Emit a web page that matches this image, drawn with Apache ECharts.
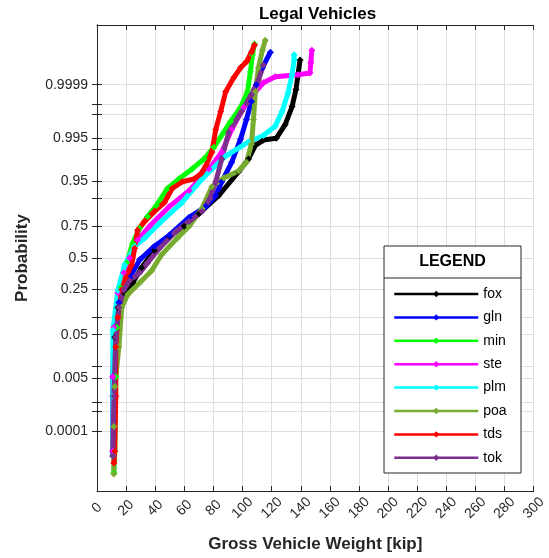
<!DOCTYPE html>
<html>
<head>
<meta charset="utf-8">
<title>Legal Vehicles</title>
<script src="https://cdn.jsdelivr.net/npm/echarts@6/dist/echarts.min.js"></script>
<style>
  html, body { margin: 0; padding: 0; background: #fff; }
  #main { width: 549px; height: 558px; }
</style>
</head>
<body>
<div id="main"></div>
<script>
// weight [kip], cumulative probability
var fox = [[10.9, 0.0000107], [10.9, 0.0015], [12.2, 0.0446], [14.3, 0.144], [18.4, 0.229], [24.5, 0.298],
  [30.6, 0.417], [39.5, 0.567], [49.7, 0.68], [59.9, 0.752], [70.1, 0.83], [83.7, 0.91], [97.3, 0.968],
  [104.1, 0.9832], [108.8, 0.9922], [114.3, 0.9943], [123.1, 0.9949], [129.3, 0.9979], [134.0, 0.99942],
  [136.7, 0.99985], [138.1, 0.999958], [139.5, 0.9999893]];
var gln = [[10.9, 0.000017], [10.9, 0.0054], [12.2, 0.068], [15.0, 0.17], [18.4, 0.248], [22.4, 0.335],
  [29.3, 0.484], [39.5, 0.6], [49.7, 0.688], [63.3, 0.808], [74.8, 0.865], [81.6, 0.91], [85.7, 0.949],
  [92.5, 0.98], [98.6, 0.9946], [102.7, 0.99853], [106.1, 0.99961], [109.5, 0.9999], [113.6, 0.9999775],
  [119.1, 0.999995]];
var min = [[11.6, 0.000002], [12.2, 0.000017], [12.9, 0.0054], [13.6, 0.068], [16.3, 0.262], [20.4, 0.458],
  [24.5, 0.625], [29.3, 0.738], [34.7, 0.813], [40.8, 0.87], [48.3, 0.9315], [56.5, 0.9554], [65.3, 0.972],
  [73.5, 0.9832], [80.3, 0.9913], [87.1, 0.99653], [91.8, 0.99831], [98.6, 0.99938], [103.4, 0.99982],
  [105.4, 0.999968], [106.8, 0.9999935], [108.2, 0.9999978]];
var ste = [[10.9, 0.000017], [10.9, 0.0054], [11.6, 0.068], [14.3, 0.228], [18.4, 0.375], [22.4, 0.5],
  [27.9, 0.65], [36.1, 0.752], [49.7, 0.865], [63.3, 0.926], [76.9, 0.972], [85.7, 0.9884], [92.5, 0.9971],
  [100.7, 0.99938], [108.8, 0.99982], [114.3, 0.999915], [122.4, 0.99995], [138.1, 0.999958],
  [146.3, 0.999964], [146.9, 0.999986], [147.6, 0.9999959]];
var plm = [[10.9, 0.0000107], [10.9, 0.0015], [10.9, 0.0606], [14.3, 0.242], [19.0, 0.441], [25.9, 0.6],
  [32.7, 0.665], [44.2, 0.784], [57.8, 0.879], [73.5, 0.959], [88.4, 0.9857], [104.1, 0.99361],
  [114.3, 0.99573], [122.4, 0.99767], [127.2, 0.99917], [131.3, 0.99981], [134.0, 0.999958],
  [135.4, 0.9999893], [135.4, 0.9999935]];
var poa = [[11.6, 0.0000018], [11.6, 0.00015], [12.2, 0.0029], [15.0, 0.028], [17.0, 0.144], [21.1, 0.216],
  [29.3, 0.298], [37.4, 0.391], [44.2, 0.525], [55.1, 0.665], [63.3, 0.752], [72.1, 0.856], [78.9, 0.937],
  [87.1, 0.957], [97.3, 0.969], [102.7, 0.98], [106.1, 0.9927], [107.5, 0.99853], [108.8, 0.99982],
  [110.9, 0.9999775], [113.6, 0.9999959], [115.6, 0.9999985]];
var tds = [[11.6, 0.0000054], [12.2, 0.000017], [12.9, 0.0015], [12.9, 0.028], [14.3, 0.101], [17.0, 0.248],
  [19.7, 0.335], [23.8, 0.44], [25.9, 0.583], [27.9, 0.724], [32.7, 0.784], [39.5, 0.841], [46.3, 0.883],
  [51.7, 0.932], [58.5, 0.949], [66.7, 0.955], [71.4, 0.9645], [74.8, 0.976], [78.9, 0.9884], [81.6, 0.9971],
  [85.0, 0.99917], [88.4, 0.99982], [93.9, 0.999945], [98.6, 0.9999775], [102.7, 0.9999872],
  [106.1, 0.999995], [108.2, 0.9999976]];
var tok = [[10.9, 0.0000107], [11.6, 0.0015], [12.9, 0.0446], [15.0, 0.144], [18.4, 0.248], [22.4, 0.312],
  [29.3, 0.375], [34.7, 0.458], [42.9, 0.583], [54.4, 0.717], [63.3, 0.784], [72.1, 0.841], [77.6, 0.899],
  [81.6, 0.949], [85.7, 0.9832], [90.5, 0.99653], [99.3, 0.99917], [106.1, 0.999776], [110.9, 0.999933],
  [114.3, 0.9999826]];

var seriesNames = ['fox', 'gln', 'min', 'ste', 'plm', 'poa', 'tds', 'tok'];
var seriesData = [fox, gln, min, ste, plm, poa, tds, tok];
var seriesColors = ['#000000', '#0000ff', '#00ff00', '#ff00ff', '#00ffff', '#77ac30', '#ff0000', '#7e2f8e'];

var probTicks = [0.0001, 0.0005, 0.001, 0.005, 0.01, 0.05, 0.1, 0.25, 0.5, 0.75, 0.9, 0.95, 0.99, 0.995, 0.999, 0.9995, 0.9999];
var probLabels = [0.0001, 0.005, 0.05, 0.25, 0.5, 0.75, 0.95, 0.995, 0.9999];
var xTicks = { min: 0, max: 300, step: 20 };

// inverse normal cdf (Acklam) - the y axis is a normal probability scale
function probit(p) {
  var a = [-3.969683028665376e+01, 2.209460984245205e+02, -2.759285104469687e+02, 1.383577518672690e+02, -3.066479806614716e+01, 2.506628277459239e+00];
  var b = [-5.447609879822406e+01, 1.615858368580409e+02, -1.556989798598866e+02, 6.680131188771972e+01, -1.328068155288572e+01];
  var c = [-7.784894002430293e-03, -3.223964580411365e-01, -2.400758277161838e+00, -2.549732539343734e+00, 4.374664141464968e+00, 2.938163982698783e+00];
  var d = [7.784695709041462e-03, 3.224671290700398e-01, 2.445134137142996e+00, 3.754408661907416e+00];
  var pl = 0.02425, q, r;
  if (p < pl) {
    q = Math.sqrt(-2 * Math.log(p));
    return (((((c[0]*q+c[1])*q+c[2])*q+c[3])*q+c[4])*q+c[5]) / ((((d[0]*q+d[1])*q+d[2])*q+d[3])*q+1);
  }
  if (p > 1 - pl) {
    q = Math.sqrt(-2 * Math.log(1 - p));
    return -(((((c[0]*q+c[1])*q+c[2])*q+c[3])*q+c[4])*q+c[5]) / ((((d[0]*q+d[1])*q+d[2])*q+d[3])*q+1);
  }
  q = p - 0.5; r = q * q;
  return (((((a[0]*r+a[1])*r+a[2])*r+a[3])*r+a[4])*r+a[5])*q / (((((b[0]*r+b[1])*r+b[2])*r+b[3])*r+b[4])*r+1);
}

var tickZ = probTicks.map(probit);
var labelZ = probLabels.map(probit);
function probLabel(v) {
  for (var i = 0; i < labelZ.length; i++) {
    if (Math.abs(labelZ[i] - v) < 1e-6) return String(probLabels[i]);
  }
  return '';
}

var font = 'Liberation Sans, Arial, Helvetica, sans-serif';
var dark = '#262626';
var gridColor = '#dedede';

var series = seriesNames.map(function (name, i) {
  return {
    name: name,
    type: 'line',
    data: seriesData[i].map(function (pt) { return [pt[0], probit(pt[1])]; }),
    symbol: 'diamond',
    symbolSize: 7,
    showSymbol: true,
    showAllSymbol: true,
    lineStyle: { width: 5, color: seriesColors[i] },
    itemStyle: { color: seriesColors[i] },
    emphasis: { disabled: true }
  };
});

var yAxisBase = {
  type: 'value',
  min: -5,
  max: 5,
  axisLine: { show: true, lineStyle: { color: dark, width: 1 } },
  axisTick: { show: true, inside: true, length: 5, customValues: tickZ, lineStyle: { color: dark } },
  splitLine: { show: false }
};

var option = {
  animation: false,
  backgroundColor: '#fff',
  title: {
    text: 'Legal Vehicles',
    left: 317.5,
    top: 6,
    padding: 0,
    textAlign: 'center',
    textStyle: { fontFamily: font, fontSize: 17, fontWeight: 'bold', color: '#000' }
  },
  grid: { left: 97, right: 11, top: 25, bottom: 64, containLabel: false },
  xAxis: [{
    type: 'value',
    min: xTicks.min,
    max: xTicks.max,
    interval: xTicks.step,
    position: 'bottom',
    name: 'Gross Vehicle Weight [kip]',
    nameLocation: 'middle',
    nameGap: 45,
    nameTextStyle: { fontFamily: font, fontSize: 17, fontWeight: 'bold', color: dark },
    axisLine: { show: true, onZero: false, lineStyle: { color: dark, width: 1 } },
    axisTick: { show: true, inside: true, length: 5, lineStyle: { color: dark } },
    axisLabel: { rotate: 45, align: 'center', verticalAlign: 'middle', margin: 17, fontFamily: font, fontSize: 14, color: dark, showMinLabel: true, showMaxLabel: true },
    splitLine: { show: true, lineStyle: { color: gridColor, width: 1 } }
  }, {
    type: 'value',
    min: xTicks.min,
    max: xTicks.max,
    interval: xTicks.step,
    position: 'top',
    axisLine: { show: true, onZero: false, lineStyle: { color: dark, width: 1 } },
    axisTick: { show: true, inside: true, length: 5, lineStyle: { color: dark } },
    axisLabel: { show: false },
    splitLine: { show: false }
  }],
  yAxis: [Object.assign({}, yAxisBase, {
    position: 'left',
    name: 'Probability',
    nameLocation: 'middle',
    nameGap: 66,
    nameTextStyle: { fontFamily: font, fontSize: 17, fontWeight: 'bold', color: dark },
    axisLabel: { show: true, customValues: labelZ, formatter: probLabel, margin: 9, fontFamily: font, fontSize: 14, color: dark },
    splitLine: { show: true, lineStyle: { color: gridColor, width: 1 } }
  }), Object.assign({}, yAxisBase, {
    position: 'right',
    axisLabel: { show: false }
  })],
  legend: {
    data: seriesNames,
    orient: 'vertical',
    left: 393,
    top: 287,
    padding: 0,
    itemWidth: 84,
    itemHeight: 8,
    itemGap: 9.4,
    lineStyle: { width: 2.5 },
    textStyle: { fontFamily: font, fontSize: 14, color: '#000' },
    selectedMode: false,
    z: 10
  },
  graphic: [{
    type: 'rect',
    z: 5,
    shape: { x: 384, y: 246, width: 137, height: 227 },
    style: { fill: '#fff', stroke: dark, lineWidth: 1 }
  }, {
    type: 'line',
    z: 6,
    shape: { x1: 384, y1: 278, x2: 521, y2: 278 },
    style: { stroke: dark, lineWidth: 1 }
  }, {
    type: 'text',
    z: 6,
    x: 452.5,
    y: 262,
    style: { text: 'LEGEND', fill: '#000', font: 'bold 16px ' + font, textAlign: 'center', textVerticalAlign: 'middle' }
  }],
  series: series
};

var chart = echarts.init(document.getElementById('main'));
chart.setOption(option);
</script>
</body>
</html>
